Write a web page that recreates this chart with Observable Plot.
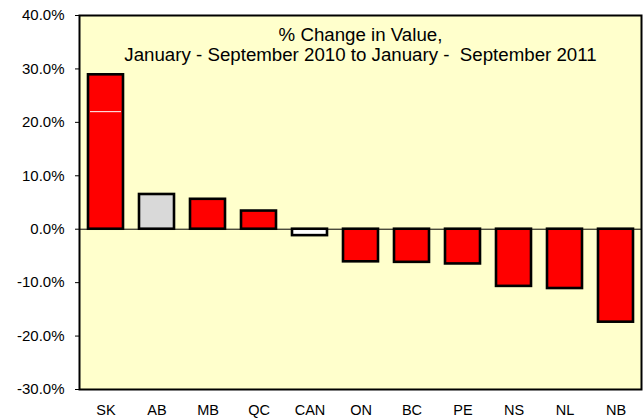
<!DOCTYPE html>
<html>
<head>
<meta charset="utf-8">
<script src="https://cdn.jsdelivr.net/npm/d3@7"></script>
<script src="https://cdn.jsdelivr.net/npm/@observablehq/plot@0.6"></script>
<style>
  html, body { margin: 0; padding: 0; background: #fff; }
  svg text { white-space: pre; }
</style>
</head>
<body>
<div id="chart"></div>
<script>
const categories = ["SK", "AB", "MB", "QC", "CAN", "ON", "BC", "PE", "NS", "NL", "NB"];
const pctChange = [28.9, 6.5, 5.6, 3.4, -1.2, -6.1, -6.2, -6.5, -10.7, -11.1, -17.4];
const barColors = ["#FF0000", "#D9D9D9", "#FF0000", "#FF0000", "#FFFFFF", "#FF0000", "#FF0000", "#FF0000", "#FF0000", "#FF0000", "#FF0000"];
const yTicks = [-30, -20, -10, 0, 10, 20, 30, 40];
const titleLines = ["% Change in Value,", "January - September 2010 to January -  September 2011"];
const markCats = ["SK"];
const markVals = [22.0];

const data = categories.map((c, i) => ({cat: c, value: pctChange[i], color: barColors[i]}));
const marker = markCats.map((c, i) => ({cat: c, value: markVals[i]}));

const chart = Plot.plot({
  width: 644,
  height: 418,
  marginLeft: 79,
  marginRight: 3,
  marginTop: 15,
  marginBottom: 29,
  style: {fontFamily: "'Liberation Sans', Arial, sans-serif", background: "#fff", color: "#000"},
  x: {domain: categories, paddingInner: 0.32, paddingOuter: 0.16, label: null},
  y: {domain: [-30, 40], label: null},
  color: {type: "identity"},
  marks: [
    Plot.frame({fill: "#FFFFCC", stroke: null}),
    Plot.axisY({ticks: yTicks, tickFormat: d => d.toFixed(1) + "%", label: null, tickSize: 4, tickPadding: 11, fontSize: 15}),
    Plot.axisX({label: null, tickSize: 0, tickPadding: 15, fontSize: 14.5}),
    Plot.barY(data, {x: "cat", y: "value", fill: "color", stroke: "#000", strokeWidth: 2.6}),
    Plot.tickY(marker, {x: "cat", y: "value", stroke: "#fff", strokeWidth: 1, inset: 2}),
    Plot.ruleY([0], {stroke: "#000", strokeWidth: 1}),
    Plot.text([titleLines.join("\n")], {frameAnchor: "top", dy: 11, lineAnchor: "top", lineHeight: 1.07, fontSize: 18.7, fill: "#000"}),
    Plot.frame({stroke: "#000", strokeWidth: 2})
  ]
});
document.getElementById("chart").appendChild(chart);
</script>
</body>
</html>
